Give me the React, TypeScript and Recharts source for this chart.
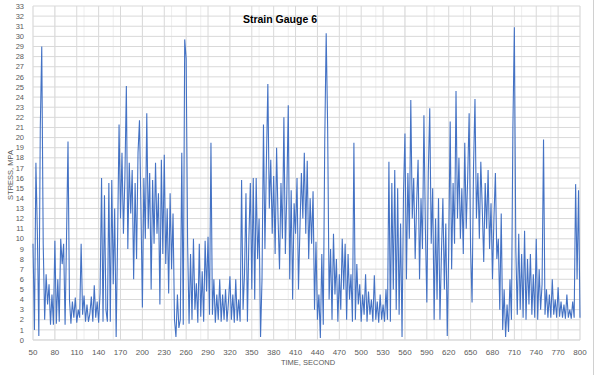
import { LineChart, Line, XAxis, YAxis, CartesianGrid } from 'recharts';

// sampled every 2 s starting at 50 s
const SAMPLE_START = 50;
const SAMPLE_STEP = 2;

const stress050 = [
  9.5, 1, 17.5, 10.5, 0.4, 21, 29, 9.5, 2, 6.5, 3.5, 5.5, 1.5, 4.5, 1.5, 9.8, 1.6, 6, 1.8, 10,
  7.5, 9.5, 1.5, 10.2, 19.6, 4, 1.6, 3.8, 2.2, 4.2, 1.7, 3, 2.2, 9.5, 2.5, 4.4, 1.8, 3.5, 1.8, 2.6,
  4.3, 1.8, 5.4, 2.2, 3.8, 1.7, 4.7, 16, 1.8, 14.3, 3,
];
const stress152 = [
  1.8, 15.5, 1.8, 15.8, 5.5, 13, 0.3, 10, 21.3, 12, 18.5, 10.5, 16, 25.1, 9, 17.5, 12.5, 16.8, 6, 15.5,
  8, 18.5, 21.7, 13, 3.2, 16, 10, 22.4, 11, 16.5, 5, 15.8, 9.5, 17.5, 10.5, 14.5, 3.5, 17.8, 8.5, 18.3,
  7.5, 13, 4.6, 14.5, 7, 12.5, 2, 0.3, 4.5, 1.2,
];
const stress252 = [
  2, 18.5, 1.5, 29.7, 27.8, 9.5, 1.6, 8.5, 2, 10, 3, 5.6, 1.7, 9.5, 2.3, 6.8, 1.8, 9.8, 4.8, 10.2,
  2.5, 19.5, 2.5, 6, 1.7, 4.5, 2, 6, 1.8, 4.5, 2, 5, 1.8, 3.8, 6.3, 2, 4.5, 1.7, 6, 1.9,
  4, 1.8, 15.8, 3, 6.5, 14.5, 1.8, 10, 15.5, 5,
];
const stress352 = [
  16, 4, 16, 8, 12, 0.3, 6, 21.3, 9, 17.5, 25.3, 13, 17.8, 10.5, 16.2, 8.5, 19, 12, 7, 15.5,
  10, 22, 8.5, 14.5, 23.2, 6, 14.8, 4, 13.5, 10.5, 16, 5, 11, 16.5, 12, 18.5, 10.5, 17.7, 8, 14,
  9.5, 14.7, 3, 9.7, 2, 4.5, 0.2, 8.5, 1.5, 19.5,
];
const stress452 = [
  30.3, 21, 4, 9, 2, 10.5, 4.5, 8, 1.8, 6.5, 3, 10, 5, 9.5, 2, 8.5, 4, 6.5, 1.8, 19.5,
  2, 7.5, 3.5, 5.5, 1.8, 4.5, 2.5, 6.5, 1.8, 4.8, 2.5, 4, 1.8, 6.4, 2, 3.8, 1.7, 4.5, 2, 3.5,
  1.8, 5, 2, 17.6, 1.8, 15.5, 5, 16.8, 3, 15,
];
const stress552 = [
  2.5, 11.5, 0.3, 14.5, 20.4, 6, 16.5, 10, 23.7, 12, 16, 8, 13.5, 17.8, 6, 14, 9, 22.2, 11, 3.7,
  16.5, 22.9, 9.5, 15, 2, 12, 4, 14, 2, 8.5, 14, 5, 11.5, 0.4, 9, 21.6, 7, 15.5, 9.5, 24.6,
  12, 18, 10, 15, 8.5, 19.5, 11, 16, 22.4, 9,
];
const stress652 = [
  3.7, 17, 23.8, 12, 16.5, 10, 17.6, 13, 7.7, 15.5, 11, 16.8, 9, 13.5, 6, 12, 16.5, 8, 10, 3,
  12.5, 1, 5, 0.3, 3.5, 0.8, 6, 2, 21, 30.9, 9, 2.5, 10.5, 3, 8.5, 2.2, 10.8, 2, 8, 3.5,
  8.5, 2.5, 6.5, 2.2, 10, 2, 7, 3, 5.5, 19.8,
];
const stress752 = [
  2.5, 5, 2.2, 4.5, 2.2, 6, 2.5, 4, 2.2, 5.2, 2.3, 3.8, 2.2, 3.5, 2.1, 4.5, 2.2, 3, 2.1, 3.8,
  2.2, 15.4, 6, 14.8, 2.2,
];

const xTicks = [50, 80, 110, 140, 170, 200, 230, 260, 290, 320, 350, 380, 410, 440, 470, 500, 530, 560, 590, 620, 650, 680, 710, 740, 770, 800];
const yTicks = [0, 1, 2, 3, 4, 5, 6, 7, 8, 9, 10, 11, 12, 13, 14, 15, 16, 17, 18, 19, 20, 21, 22, 23, 24, 25, 26, 27, 28, 29, 30, 31, 32, 33];

const stress = [
  ...stress050, ...stress152, ...stress252, ...stress352,
  ...stress452, ...stress552, ...stress652, ...stress752,
];
const data = stress.map((v, i) => ({ time: SAMPLE_START + i * SAMPLE_STEP, stress: v }));

const minorTicks = Array.from({ length: 76 }, (_, i) => 50 + i * 10);

const font = "'Liberation Sans', Arial, sans-serif";

export default function App() {
  return (
    <div style={{ position: 'absolute', left: 0, top: 0, width: 600, height: 375, background: '#fff', fontFamily: font }}>
      <LineChart width={600} height={375} data={data} margin={{ top: 6, right: 20, bottom: 5, left: 13 }}>
        <XAxis xAxisId="minor" dataKey="time" type="number" domain={[50, 800]} ticks={minorTicks} hide />
        <CartesianGrid xAxisId="minor" horizontal={false} stroke="#eeeeee" />
        <CartesianGrid stroke="#d9d9d9" />
        <XAxis
          dataKey="time"
          type="number"
          domain={[50, 800]}
          ticks={xTicks}
          interval={0}
          height={30}
          axisLine={{ stroke: '#d9d9d9' }}
          tickLine={false}
          tick={{ fontSize: 8, fill: '#595959', fontFamily: font }}
          tickMargin={3}
        />
        <YAxis
          type="number"
          domain={[0, 33]}
          ticks={yTicks}
          interval={0}
          width={20}
          axisLine={false}
          tickLine={false}
          tick={{ fontSize: 7.5, fill: '#595959', fontFamily: font }}
          tickMargin={3}
        />
        <Line
          type="linear"
          dataKey="stress"
          stroke="#4472C4"
          strokeWidth={1.1}
          dot={false}
          isAnimationActive={false}
        />
      </LineChart>
      <div style={{ position: 'absolute', left: 200, width: 160, top: 13, textAlign: 'center', fontWeight: 'bold', fontSize: 10.5, color: '#000' }}>
        Strain Gauge 6
      </div>
      <div style={{ position: 'absolute', left: 230, width: 156, top: 358, textAlign: 'center', fontSize: 7.5, color: '#595959' }}>
        TIME, SECOND
      </div>
      <div style={{ position: 'absolute', left: 10, top: 175, width: 0, height: 0 }}>
        <div style={{ position: 'absolute', transform: 'translate(-50%, -50%) rotate(-90deg)', whiteSpace: 'nowrap', fontSize: 7.5, color: '#595959' }}>
          STRESS, MPA
        </div>
      </div>
      <div style={{ position: 'absolute', left: 593, top: 0, width: 1, height: 375, background: '#d0d0d0' }} />
    </div>
  );
}
